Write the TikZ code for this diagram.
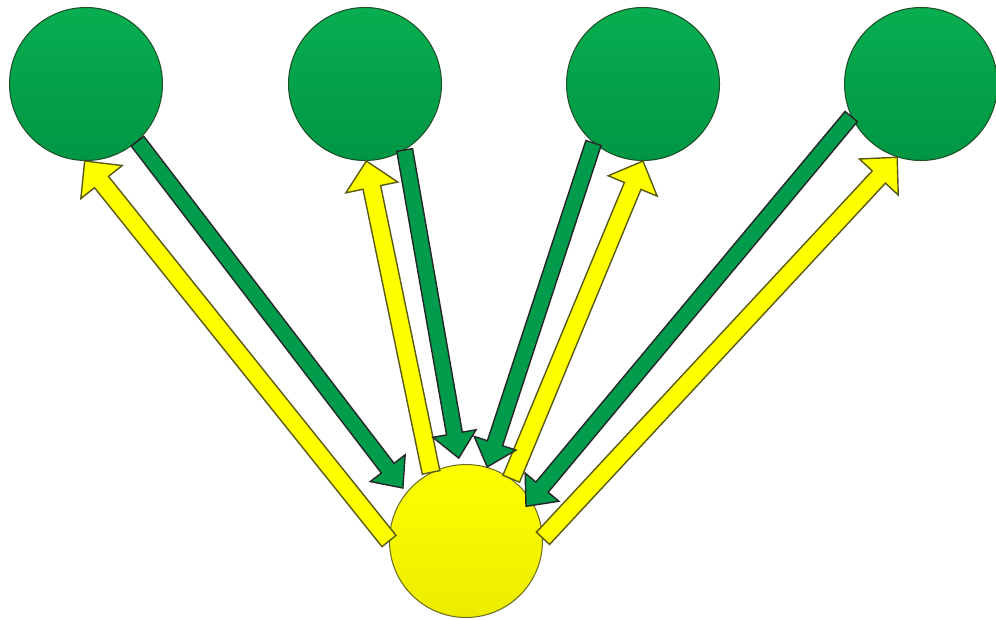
\documentclass[tikz,border=0pt]{standalone}
\usepackage{tikz}
\usetikzlibrary{calc}
\definecolor{ballgreentop}{RGB}{8,174,80}
\definecolor{ballgreenbot}{RGB}{0,150,68}
\definecolor{ballgreenline}{RGB}{30,80,40}
\definecolor{ballyellowtop}{RGB}{255,255,0}
\definecolor{ballyellowbot}{RGB}{236,236,0}
\definecolor{ballyellowline}{RGB}{110,110,40}
\definecolor{arrowgreen}{RGB}{0,156,76}
\definecolor{arrowyellow}{RGB}{255,255,0}
\definecolor{arrowyellowline}{RGB}{90,90,20}

% block arrow: from, to, style, half shaft, half head, head length
\newcommand{\blockarrow}[6]{%
  \coordinate (hb) at ($(#2)!#6!(#1)$);
  \draw[#3] ($(#1)!#4!90:(#2)$) -- ($(hb)!#4!-90:(#1)$) -- ($(hb)!#5!-90:(#1)$) -- (#2)
    -- ($(hb)!#5!90:(#1)$) -- ($(hb)!#4!90:(#1)$) -- ($(#1)!#4!-90:(#2)$) -- cycle;}

\begin{document}
\begin{tikzpicture}[x=0.02cm, y=-0.02cm,
    green_ball/.style={circle, inner sep=0pt, minimum size=3.06cm, line width=0.6pt,
      draw=ballgreenline, top color=ballgreentop, bottom color=ballgreenbot},
    yellow_ball/.style={circle, inner sep=0pt, minimum size=3.06cm, line width=0.6pt,
      draw=ballyellowline, top color=ballyellowtop, bottom color=ballyellowbot},
    green_arrow/.style={fill=arrowgreen, draw=black!85, line width=0.8pt, line join=miter},
    yellow_arrow/.style={fill=arrowyellow, draw=arrowyellowline, line width=0.8pt, line join=miter}]

    \useasboundingbox (0,0) rectangle (996,619);

    \foreach \x/\y in {86/1,365/2,643/3,921/4}{
        \node[green_ball] (\y) at (\x,84){};}
    \node[yellow_ball] (0) at (466,541){};

    % yellow arrows: yellow ball -> green balls
    \foreach \a/\b/\c in {1/-91/180,2/-89/117,3/-90/54,4/-108/2}{
        \blockarrow{0.\c}{\a.\b}{yellow_arrow}{0.18cm}{0.53cm}{0.54cm}}

    % green arrows: green balls -> yellow ball
    \foreach \a/\b/\c/\d in {1/-48/140/1.07,2/-59/95/1.08,3/-130/74/1.0,4/-155/30/0.9}{
        \coordinate (t) at ($(0)!\d!(0.\c)$);
        \blockarrow{\a.\b}{t}{green_arrow}{0.16cm}{0.44cm}{0.5cm}}
\end{tikzpicture}
\end{document}
